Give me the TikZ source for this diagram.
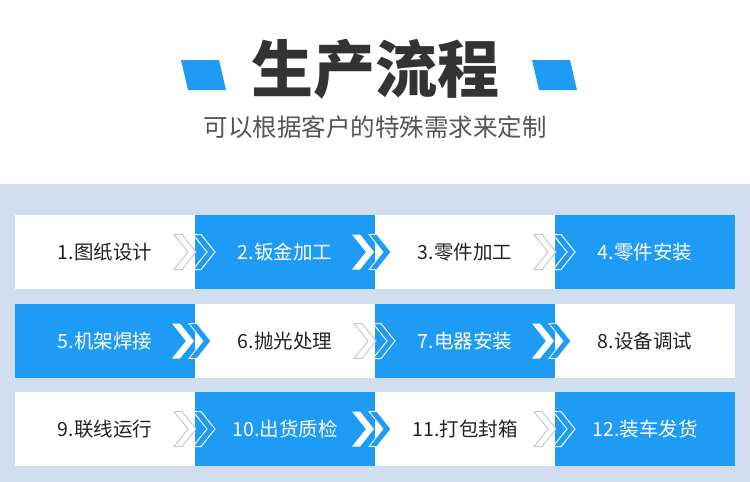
\documentclass[tikz,border=0pt]{standalone}
\usepackage{fontspec}
\setmainfont{Noto Sans CJK SC}
\usetikzlibrary{calc}
\usetikzlibrary{positioning}

\definecolor{flowblue}{RGB}{30,155,245}
\definecolor{panelblue}{RGB}{208,222,240}
\definecolor{titlegray}{RGB}{51,51,51}
\definecolor{subgray}{RGB}{85,85,85}
\definecolor{txtdark}{RGB}{34,34,34}
\definecolor{chevgray}{RGB}{200,200,200}

\tikzset{
  chev/.pic={\path [pic actions] (0,-17.5) -- (8,-17.5) -- (22,0) -- (8,17.5) -- (0,17.5) -- (14,0) -- cycle;},
  cell/.style={rectangle, minimum width=180pt, minimum height=74pt, inner sep=0pt, outer sep=0pt, font=\fontsize{19.5}{22}\selectfont},
  wcell/.style={cell, fill=white, text=txtdark},
  bcell/.style={cell, fill=flowblue, text=white}
}

\begin{document}
\begin{tikzpicture}[x=1pt, y=-1pt]
\useasboundingbox (0,0) rectangle (750,482);
\fill [white] (0,0) rectangle (750,184);
\fill [panelblue] (0,184) rectangle (750,482);

% header
\fill [flowblue] (181,60) -- (219,60) -- (226,90) -- (188,90) -- cycle;
\fill [flowblue] (532,60) -- (570,60) -- (577,90) -- (539,90) -- cycle;
\node [text=titlegray, font=\fontsize{62}{66}\selectfont\bfseries] (title) at (375,69) {生产流程};
\node [text=subgray, font=\fontsize{24.5}{28}\selectfont] (sub) at (375,127) {可以根据客户的特殊需求来定制};

% steps
\node [wcell] (s1) at (105,252) {1.图纸设计};
\node [bcell] (s2) at (285,252) {2.钣金加工};
\node [wcell] (s3) at (465,252) {3.零件加工};
\node [bcell] (s4) at (645,252) {4.零件安装};
\node [bcell] (s5) at (105,341) {5.机架焊接};
\node [wcell] (s6) at (285,341) {6.抛光处理};
\node [bcell] (s7) at (465,341) {7.电器安装};
\node [wcell] (s8) at (645,341) {8.设备调试};
\node [wcell] (s9) at (105,429) {9.联线运行};
\node [bcell] (s10) at (285,429) {10.出货质检};
\node [wcell] (s11) at (465,429) {11.打包封箱};
\node [bcell] (s12) at (645,429) {12.装车发货};

% chevrons
\foreach \n in {s1,s3,s6,s9,s11} {
  \pic [draw=chevgray, line width=1pt] at ($(\n.east)+(-21,0)$) {chev};
  \pic [draw=white, line width=1pt] at ($(\n.east)+(-2,0)$) {chev};
}
\foreach \n in {s2,s5,s7,s10} {
  \pic [fill=white] at ($(\n.east)+(-23,0)$) {chev};
  \pic [fill=flowblue, draw=white, line width=0.8pt] at ($(\n.east)+(-6,0)$) {chev};
}
\end{tikzpicture}
\end{document}
